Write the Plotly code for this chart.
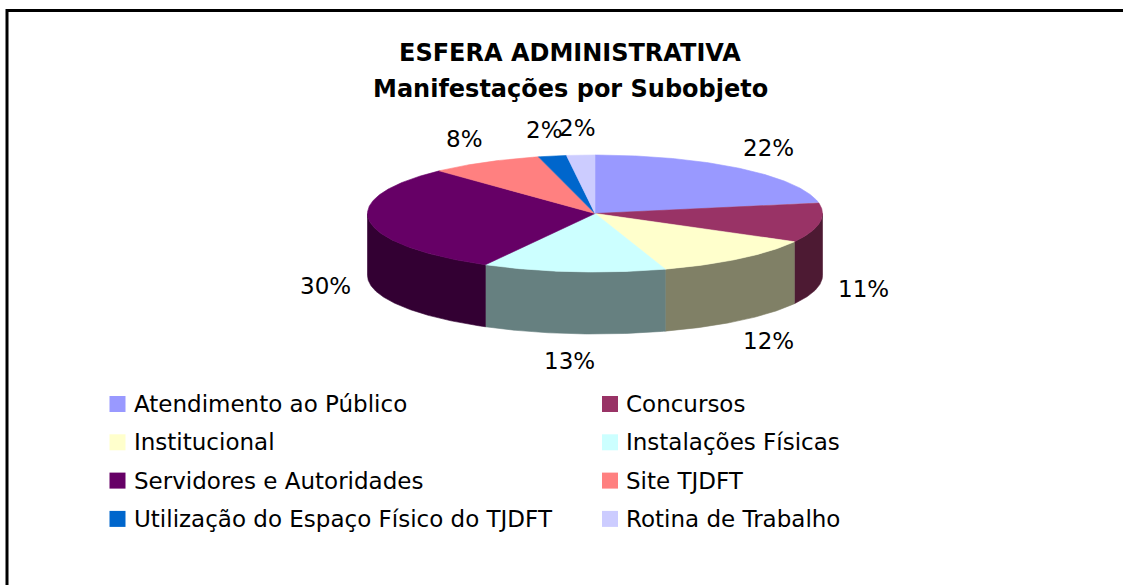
import numpy as np
import plotly.graph_objects as go

# ---------------- data ----------------
categories = [
    "Atendimento ao Público",
    "Concursos",
    "Institucional",
    "Instalações Físicas",
    "Servidores e Autoridades",
    "Site TJDFT",
    "Utilização do Espaço Físico do TJDFT",
    "Rotina de Trabalho",
]
values = [22, 11, 12, 13, 30, 8, 2, 2]
colors = ["#9999FF", "#993366", "#FFFFCC", "#CCFFFF",
          "#660066", "#FF8080", "#0066CC", "#CCCCFF"]
side_colors = ["#4D4D80", "#4D1A33", "#808066", "#668080",
               "#330033", "#804040", "#003366", "#666680"]
title_lines = ["ESFERA ADMINISTRATIVA", "Manifestações por Subobjeto"]

# ---------------- layout constants (pixel space) ----------------
W, H = 1123, 585
CX, CY = 595.0, 213.5
RX, RY = 227.5, 58.5
DEPTH = 62.0
FONT = "DejaVu Sans, Arial, sans-serif"

total = float(sum(values))
fr = np.cumsum([0.0] + [v / total for v in values])
angles = fr * 360.0  # clockwise from 12 o'clock


def arc(a0, a1, dy=0.0):
    n = max(2, int(abs(a1 - a0) * 2) + 2)
    t = np.radians(np.linspace(a0, a1, n))
    return CX + RX * np.sin(t), CY - RY * np.cos(t) + dy


fig = go.Figure()

# side walls (visible front half: 90..270 degrees)
for i in range(len(values)):
    s, e = max(angles[i], 90.0), min(angles[i + 1], 270.0)
    if s < e:
        xt, yt = arc(s, e)
        xb, yb = arc(e, s, DEPTH)
        fig.add_trace(go.Scatter(
            x=np.concatenate([xt, xb, xt[:1]]), y=np.concatenate([yt, yb, yt[:1]]),
            mode="lines", fill="toself", fillcolor=side_colors[i],
            line=dict(color=side_colors[i], width=0.6),
            hoverinfo="skip", showlegend=False))

# top faces
for i in range(len(values)):
    xa, ya = arc(angles[i], angles[i + 1])
    fig.add_trace(go.Scatter(
        x=np.concatenate([[CX], xa, [CX]]), y=np.concatenate([[CY], ya, [CY]]),
        mode="lines", fill="toself", fillcolor=colors[i],
        line=dict(color=colors[i], width=0.6),
        name=categories[i], hoverinfo="name", showlegend=False))

annotations = []
# percentage labels
for i, v in enumerate(values):
    mid = np.radians((angles[i] + angles[i + 1]) / 2.0)
    lx = CX + (RX + 44) * np.sin(mid)
    ly = CY - (RY + 27) * np.cos(mid) + (DEPTH if np.cos(mid) < 0 else 0)
    annotations.append(dict(
        x=lx, y=ly, xref="x", yref="y", text=f"{round(v / total * 100)}%",
        showarrow=False, xanchor="center", yanchor="middle",
        font=dict(family=FONT, size=23, color="#000000")))

# title
for k, line in enumerate(title_lines):
    annotations.append(dict(
        x=570, y=53 + k * 36, xref="x", yref="y", text=f"<b>{line}</b>",
        showarrow=False, xanchor="center", yanchor="middle",
        font=dict(family=FONT, size=24, color="#000000")))

# legend (two columns)
LEG_X = [117.5, 610.0]
LEG_Y0, LEG_DY = 404.0, 38.3
for i, name in enumerate(categories):
    r, c = divmod(i, 2)
    mx, my = LEG_X[c], LEG_Y0 + r * LEG_DY
    fig.add_trace(go.Scatter(
        x=[mx], y=[my], mode="markers",
        marker=dict(symbol="square", size=16, color=colors[i], line=dict(width=0)),
        hoverinfo="skip", showlegend=False))
    annotations.append(dict(
        x=mx + 14, y=my, xref="x", yref="y", text=name,
        showarrow=False, xanchor="left", yanchor="middle",
        font=dict(family=FONT, size=23, color="#000000")))

fig.update_layout(
    width=W, height=H,
    margin=dict(l=0, r=0, t=0, b=0),
    paper_bgcolor="#FFFFFF", plot_bgcolor="#FFFFFF",
    xaxis=dict(range=[0, W], visible=False, fixedrange=True),
    yaxis=dict(range=[H, 0], visible=False, fixedrange=True),
    annotations=annotations,
    shapes=[dict(type="rect", xref="x", yref="y", x0=7, y0=10.5, x1=W + 20, y1=H + 20,
                 line=dict(color="#000000", width=3), fillcolor="rgba(0,0,0,0)",
                 layer="above")],
    showlegend=False,
)

fig.write_html(
    "out.html",
    config={"displayModeBar": False},
    post_script="document.body.style.margin='0';document.body.style.overflow='hidden';",
)
